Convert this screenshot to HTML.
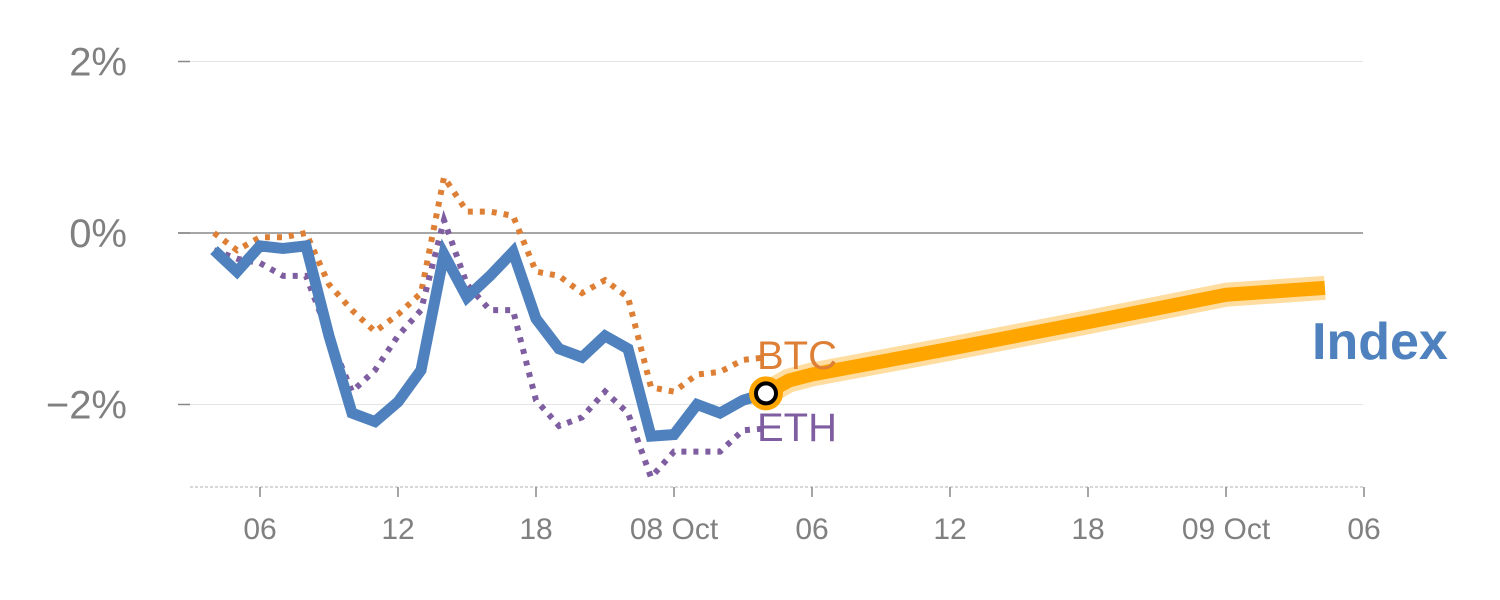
<!DOCTYPE html>
<html><head><meta charset="utf-8"><style>
body{margin:0;background:#fff;}
svg{display:block;font-family:"Liberation Sans",sans-serif;}
</style></head><body>
<svg id="chart" width="1500" height="600"></svg>
<script>
const yTicks=[2,0,-2];
const yTickLabels=["2%","0%","\u22122%"];
const xTicks=[6,12,18,24,30,36,42,48,54];
const xTickLabels=["06","12","18","08 Oct","06","12","18","09 Oct","06"];
const histHours=[4,5,6,7,8,9,10,11,12,13,14,15,16,17,18,19,20,21,22,23,24,25,26,27,28];
const indexVals=[-0.2,-0.45,-0.15,-0.18,-0.15,-1.2,-2.1,-2.2,-1.97,-1.6,-0.25,-0.75,-0.5,-0.22,-1.0,-1.35,-1.45,-1.2,-1.35,-2.37,-2.35,-2.0,-2.1,-1.95,-1.87];
const btcVals=[0.0,-0.2,-0.05,-0.05,0.0,-0.6,-0.9,-1.15,-0.95,-0.7,0.65,0.25,0.25,0.2,-0.45,-0.5,-0.7,-0.55,-0.75,-1.8,-1.85,-1.65,-1.62,-1.48,-1.45];
const ethVals=[-0.2,-0.3,-0.35,-0.5,-0.5,-1.2,-1.85,-1.6,-1.2,-0.9,0.15,-0.6,-0.9,-0.9,-1.95,-2.25,-2.15,-1.85,-2.1,-2.85,-2.55,-2.55,-2.55,-2.3,-2.28];
const fcHours=[28,29,30,36,42,48,52.3];
const fcVals=[-1.87,-1.72,-1.65,-1.35,-1.04,-0.72,-0.64];

const X=h=>122+23*h;
const Y=v=>233-85.75*v;
const svg=document.getElementById('chart');
const NS='http://www.w3.org/2000/svg';
function mk(tag,attrs,parent){const e=document.createElementNS(NS,tag);for(const k in attrs)e.setAttribute(k,attrs[k]);(parent||svg).appendChild(e);return e;}
function pts(hs,vs){return hs.map((h,i)=>X(h)+','+Y(vs[i])).join(' ');}

yTicks.forEach((t,i)=>{
  const g=mk('line',{x1:178,x2:1363,y1:Y(t),y2:Y(t),stroke:t===0?'#888':'#e4e4e4','stroke-width':t===0?1.5:1});
  
  
  const tk=mk('line',{x1:178,x2:190,y1:Y(t),y2:Y(t),stroke:'#888','stroke-width':1.5});
  
  
  const tx=mk('text',{x:127,y:Y(t)+14,'text-anchor':'end','font-size':40,fill:'#808080'});
  tx.textContent=yTickLabels[i];
  
  
});
const ax=mk('line',{x1:190,x2:1365,y1:487,y2:487,stroke:'#ccc','stroke-width':1.5,'stroke-dasharray':'3,2'});


xTicks.forEach((t,i)=>{
  const tk=mk('line',{x1:X(t),x2:X(t),y1:487,y2:497,stroke:'#888','stroke-width':1.5});
  
  
  const tx=mk('text',{x:X(t),y:539,'text-anchor':'middle','font-size':30,fill:'#808080'});
  tx.textContent=xTickLabels[i];
  
  
});
const btc=mk('polyline',{points:pts(histHours,btcVals),fill:'none',stroke:'#dd7f35','stroke-width':6,'stroke-dasharray':'5,7'});


const eth=mk('polyline',{points:pts(histHours,ethVals),fill:'none',stroke:'#7e5ea0','stroke-width':6,'stroke-dasharray':'5,7'});


const fcGlow=mk('polyline',{points:pts(fcHours,fcVals),fill:'none',stroke:'#ffd48a','stroke-width':24,'stroke-linejoin':'round','stroke-opacity':0.8});


const fc=mk('polyline',{points:pts(fcHours,fcVals),fill:'none',stroke:'#ffa500','stroke-width':14,'stroke-linejoin':'round'});


const idx=mk('polyline',{points:pts(histHours,indexVals),fill:'none',stroke:'#4e81bd','stroke-width':11,'stroke-linejoin':'miter'});


const last=histHours.length-1;
const c1=mk('circle',{cx:X(histHours[last]),cy:Y(indexVals[last]),r:17,fill:'#ffa500'});


const c2=mk('circle',{cx:X(histHours[last]),cy:Y(indexVals[last]),r:10,fill:'#fff',stroke:'#000','stroke-width':4});


const bl=mk('text',{x:757,y:369,'font-size':40,fill:'#dd7f35'});bl.textContent='BTC';


const el=mk('text',{x:757,y:441,'font-size':40,fill:'#7e5ea0'});el.textContent='ETH';


const il=mk('text',{x:1312,y:359,'font-size':52,'font-weight':'bold',fill:'#4e81bd'});il.textContent='Index';


</script>
</body></html>
